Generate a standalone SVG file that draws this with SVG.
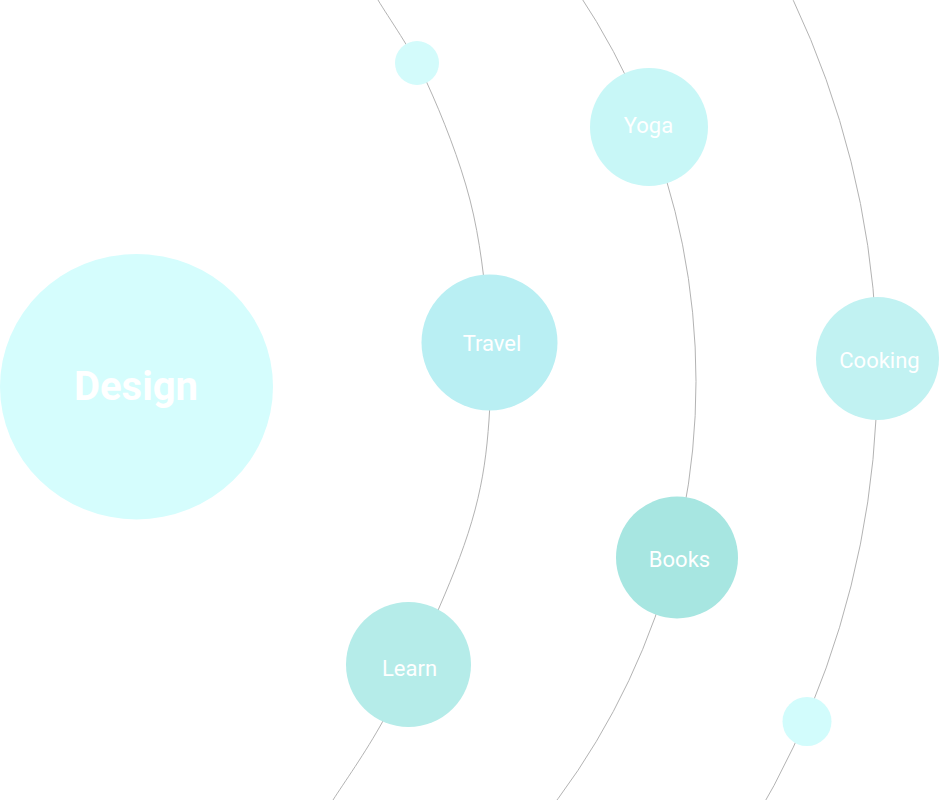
<svg xmlns="http://www.w3.org/2000/svg" width="939" height="800" viewBox="0 0 939 800">
  <style>
    .orbit { fill: none; stroke: #b3b3b3; stroke-width: 1; }
    .label { fill: #ffffff; font-family: Roboto, "Liberation Sans", sans-serif; font-size: 22px; text-anchor: middle; }
    .big { font-size: 40px; font-weight: bold; }
  </style>
  <rect width="939" height="800" fill="#ffffff"/>
  <g id="connectors">
    <path class="orbit" d="M366,-20 L378,0 C388.2,17.2 411.7,49.7 427,83 C442.3,116.3 459.8,160.5 470,200 C480.2,239.5 484.8,283.3 488,320 C491.2,356.7 491.2,388.3 489,420 C486.8,451.7 483.3,478.7 475,510 C466.7,541.3 454.3,572.8 439,608 C423.7,643.2 400.7,689 383,721 C365.3,753 343.5,783.5 333,800 L320,820"/>
    <circle class="orbit" cx="-4" cy="381.4" r="700"/>
    <circle class="orbit" cx="4.2" cy="373.8" r="873"/>
  </g>
  <g id="design">
    <ellipse cx="136.5" cy="386.7" rx="136.5" ry="132.7" fill="#d5fdfd"/>
    <text class="label big" x="136" y="400">Design</text>
  </g>
  <g id="dot-top">
    <circle cx="417" cy="63" r="22" fill="#d3fbfb"/>
  </g>
  <g id="travel">
    <circle cx="489.5" cy="342.5" r="68" fill="#b9eff3"/>
    <text class="label" x="492" y="350.5">Travel</text>
  </g>
  <g id="learn">
    <circle cx="408.5" cy="664.5" r="62.5" fill="#b5ece9"/>
    <text class="label" x="409.5" y="675.5">Learn</text>
  </g>
  <g id="yoga">
    <circle cx="649" cy="127" r="59" fill="#c8f7f7"/>
    <text class="label" x="648.5" y="133">Yoga</text>
  </g>
  <g id="books">
    <circle cx="677" cy="557.5" r="61" fill="#a7e6e1"/>
    <text class="label" x="679.5" y="567">Books</text>
  </g>
  <g id="cooking">
    <circle cx="877.5" cy="358.5" r="61.5" fill="#c1f2f2"/>
    <text class="label" x="879.5" y="368">Cooking</text>
  </g>
  <g id="dot-bottom">
    <circle cx="807" cy="721.5" r="24.5" fill="#d2fcfc"/>
  </g>
</svg>
